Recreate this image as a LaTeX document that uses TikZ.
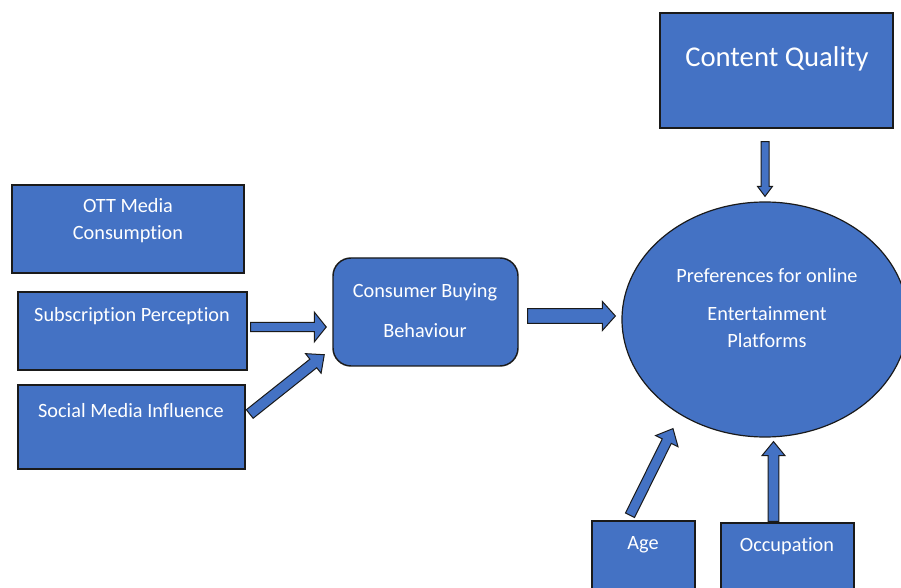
\documentclass[tikz,border=0pt]{standalone}
\usepackage{fontspec}
\setmainfont{Carlito}[Ligatures=NoCommon]
\usetikzlibrary{shapes.geometric,calc}
\definecolor{boxblue}{HTML}{4472C4}
\definecolor{edgedark}{HTML}{1A1A1A}
\tikzset{
    box/.style      = {draw = edgedark, line width = 1.1pt, fill = boxblue},
    roundbox/.style = {box, rounded corners = 13.5pt},
    ovalbox/.style  = {box, ellipse, line width = 0.9pt},
    lbl/.style      = {text = white, inner sep = 0pt, align = center, font = \fontsize{15.2}{20}\selectfont},
    arrowfill/.style = {draw = edgedark, line width = 0.75pt, fill = boxblue, line join = miter}
}
\newcommand{\blockarrow}[5]{%
    \filldraw [arrowfill] ($(#1)!#3!90:(#2)$)
        -- ($(#2)!#5!(#1)!#3!90:(#2)$)
        -- ($(#2)!#5!(#1)!#4!90:(#2)$)
        -- (#2)
        -- ($(#2)!#5!(#1)!#4!-90:(#2)$)
        -- ($(#2)!#5!(#1)!#3!-90:(#2)$)
        -- ($(#1)!#3!-90:(#2)$) -- cycle;}
\begin{document}
\begin{tikzpicture}[x = 0.75pt, y = -0.75pt]
                \useasboundingbox (0,0) rectangle (901,588);
                \clip (0,0) rectangle (901,588);
                \node [box, minimum width = 174pt,    minimum height = 66pt]    (ott) at (128,229)     {};
                \node [lbl] (ott-txt) at (128,220.5) {OTT Media\\Consumption};
                \node [box, minimum width = 171.75pt, minimum height = 58.5pt]  (sub) at (132.5,331)   {};
                \node [lbl] (sub-txt) at (132,316) {Subscription Perception};
                \node [box, minimum width = 170.25pt, minimum height = 63pt]    (smi) at (131.5,427)   {};
                \node [lbl] (smi-txt) at (131,411) {Social Media Influence};
                \node [roundbox, minimum width = 138.75pt, minimum height = 81pt] (cbb) at (425.5,312) {};
                \node [lbl] (cbb-txt) at (425,311) {Consumer Buying\\[10pt]Behaviour};
                \node [ovalbox, minimum width = 214.5pt, minimum height = 176.25pt] (ell) at (765,319.5) {};
                \node [lbl] (ell-txt) at (767,308) {Preferences for online\\[9pt]Entertainment\\Platforms};
                \node [box, minimum width = 174.75pt, minimum height = 86.25pt] (cq) at (776.5,70.5) {};
                \node [lbl, font = \fontsize{21.5}{26}\selectfont] (cq-txt) at (777,59) {Content Quality};
                \node [box, minimum width = 77.25pt,  minimum height = 59.25pt] (age) at (643.5,560.5) {};
                \node [lbl] (age-txt) at (643,545) {Age};
                \node [box, minimum width = 99.75pt,  minimum height = 57.75pt] (occ) at (787.5,561.5) {};
                \node [lbl] (occ-txt) at (787,546) {Occupation};
                \coordinate (sub-out) at ($(sub.east)+(3,-4)$);
                \coordinate (cbb-in1) at ($(sub.east -| cbb.west)+(-6,-4)$);
                \coordinate (smi-out) at ($(smi.east)+(4,-13)$);
                \coordinate (cbb-in2) at ($(cbb.south west)+(-8,-12)$);
                \coordinate (cbb-out) at ($(cbb.east)+(9,4)$);
                \coordinate (ell-in1) at ($(cbb-out -| ell.west)+(-6,0)$);
                \coordinate (cq-out)  at ($(ell.north |- cq.south)+(0,13)$);
                \coordinate (ell-in2) at ($(ell.north)+(0,-5)$);
                \coordinate (age-out) at ($(age.north)+(-13.5,-5)$);
                \coordinate (ell-in3) at ($(ell.south)+(-92,-9)$);
                \coordinate (occ-out) at ($(occ.north)+(-14,-1)$);
                \coordinate (ell-in4) at ($(occ-out |- ell.south)+(0,4)$);
                \blockarrow{sub-out}{cbb-in1}{3.4pt}{11.2pt}{9pt}
                \blockarrow{smi-out}{cbb-in2}{4.1pt}{9.4pt}{10.5pt}
                \blockarrow{cbb-out}{ell-in1}{5.6pt}{10.9pt}{9.8pt}
                \blockarrow{cq-out}{ell-in2}{3pt}{5.6pt}{7.5pt}
                \blockarrow{age-out}{ell-in3}{3.8pt}{9.4pt}{10.5pt}
                \blockarrow{occ-out}{ell-in4}{4.1pt}{8.6pt}{10.5pt}
            \end{tikzpicture}
\end{document}
